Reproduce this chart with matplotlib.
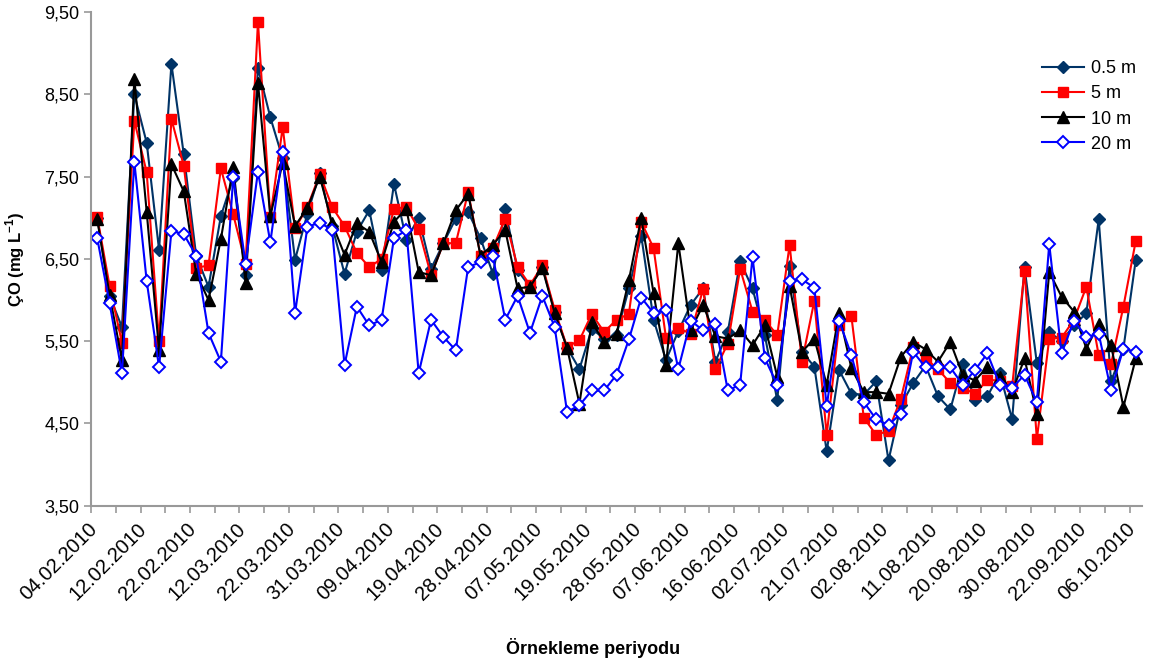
import numpy as np
import matplotlib
matplotlib.use('Agg')
import matplotlib.pyplot as plt
from matplotlib.transforms import ScaledTranslation

plt.rcParams['font.family'] = ['Liberation Sans', 'DejaVu Sans']
plt.rcParams['mathtext.fontset'] = 'custom'
plt.rcParams['mathtext.rm'] = 'Liberation Sans'
plt.rcParams['mathtext.bf'] = 'Liberation Sans:bold'

# Dissolved oxygen (mg/L) per sampling, one list per depth
do_05m = [7.00, 6.05, 5.67, 8.50, 7.91, 6.61, 8.87, 7.77, 6.54, 6.16,
          7.02, 7.48, 6.30, 8.82, 8.22, 7.72, 6.49, 7.05, 7.54, 6.90,
          6.32, 6.83, 7.09, 6.36, 7.41, 6.73, 7.00, 6.38, 6.69, 6.99,
          7.07, 6.75, 6.32, 7.10, 6.36, 6.16, 6.40, 5.86, 5.42, 5.16,
          5.65, 5.53, 5.58, 6.14, 6.78, 5.76, 5.27, 5.62, 5.94, 6.14,
          5.25, 5.61, 6.47, 6.14, 5.57, 4.78, 6.41, 5.37, 5.19, 4.16,
          5.15, 4.86, 4.85, 5.01, 4.05, 4.72, 4.99, 5.20, 4.83, 4.67,
          5.22, 4.79, 4.83, 5.11, 4.55, 6.40, 5.23, 5.61, 5.50, 5.69,
          5.84, 6.98, 5.01, 5.41, 6.49]
do_5m = [7.01, 6.17, 5.48, 8.18, 7.55, 5.50, 8.20, 7.63, 6.39, 6.42,
         7.60, 7.04, 6.44, 9.38, 7.01, 8.10, 6.87, 7.13, 7.53, 7.13,
         6.90, 6.57, 6.40, 6.50, 7.11, 7.13, 6.86, 6.30, 6.69, 6.69,
         7.31, 6.54, 6.63, 6.99, 6.40, 6.18, 6.42, 5.88, 5.43, 5.51,
         5.83, 5.61, 5.76, 5.83, 6.95, 6.63, 5.54, 5.66, 5.59, 6.13,
         5.16, 5.47, 6.38, 5.86, 5.76, 5.57, 6.67, 5.25, 5.99, 4.36,
         5.69, 5.80, 4.57, 4.36, 4.41, 4.80, 5.43, 5.29, 5.16, 4.99,
         4.93, 4.86, 5.03, 5.02, 4.95, 6.35, 4.31, 5.53, 5.54, 5.76,
         6.16, 5.33, 5.22, 5.92, 6.72]
do_10m = [6.98, 6.06, 5.27, 8.69, 7.07, 5.39, 7.65, 7.32, 6.32, 6.00,
          6.74, 7.62, 6.21, 8.64, 7.02, 7.67, 6.90, 7.12, 7.50, 6.93,
          6.55, 6.93, 6.83, 6.46, 6.95, 7.11, 6.34, 6.30, 6.69, 7.09,
          7.29, 6.54, 6.67, 6.85, 6.14, 6.16, 6.39, 5.84, 5.42, 4.74,
          5.73, 5.49, 5.59, 6.24, 7.00, 6.08, 5.21, 6.69, 5.63, 5.94,
          5.56, 5.53, 5.63, 5.45, 5.69, 5.07, 6.17, 5.37, 5.53, 4.97,
          5.84, 5.17, 4.88, 4.88, 4.86, 5.31, 5.49, 5.40, 5.25, 5.49,
          5.09, 5.02, 5.19, 5.07, 4.88, 5.29, 4.62, 6.34, 6.04, 5.86,
          5.41, 5.71, 5.45, 4.70, 5.29]
do_20m = [6.75, 5.96, 5.11, 7.68, 6.23, 5.18, 6.84, 6.80, 6.54, 5.60,
          5.25, 7.50, 6.44, 7.56, 6.70, 7.80, 5.84, 6.89, 6.94, 6.85,
          5.21, 5.92, 5.69, 5.76, 6.75, 6.85, 5.11, 5.76, 5.55, 5.39,
          6.40, 6.46, 6.53, 5.76, 6.05, 5.60, 6.05, 5.67, 4.64, 4.72,
          4.90, 4.90, 5.09, 5.52, 6.03, 5.84, 5.88, 5.16, 5.75, 5.63,
          5.71, 4.90, 4.97, 6.52, 5.29, 4.97, 6.23, 6.25, 6.15, 4.71,
          5.75, 5.33, 4.76, 4.55, 4.48, 4.62, 5.37, 5.18, 5.18, 5.18,
          4.97, 5.15, 5.35, 4.97, 4.93, 5.09, 4.76, 6.68, 5.35, 5.75,
          5.55, 5.59, 4.90, 5.41, 5.37]

date_labels = ['04.02.2010', '12.02.2010', '22.02.2010', '12.03.2010', '22.03.2010',
               '31.03.2010', '09.04.2010', '19.04.2010', '28.04.2010', '07.05.2010',
               '19.05.2010', '28.05.2010', '07.06.2010', '16.06.2010', '02.07.2010',
               '21.07.2010', '02.08.2010', '11.08.2010', '20.08.2010', '30.08.2010',
               '22.09.2010', '06.10.2010']
label_step = 4

x = np.arange(len(do_05m))

fig = plt.figure(figsize=(11.57, 6.68), dpi=100)
ax = fig.add_axes([0.0787, 0.243, 0.9083, 0.739])

ax.plot(x, do_05m, '-D', color='#003366', lw=1.5, ms=6, label='0.5 m')
ax.plot(x, do_5m, '-s', color='#ff0000', lw=1.5, ms=7.2, label='5 m')
ax.plot(x, do_10m, '-^', color='#000000', lw=1.5, ms=8.8, label='10 m')
ax.plot(x, do_20m, '-D', color='#0000ff', mfc='white', mec='#0000ff', mew=1.4,
        lw=1.5, ms=6, label='20 m')

ax.set_xlim(-0.5, len(x) - 0.5)
ax.set_ylim(3.5, 9.5)
ax.set_yticks(np.arange(3.5, 9.6, 1.0))
ax.set_yticklabels([f'{v:.2f}'.replace('.', ',') for v in np.arange(3.5, 9.6, 1.0)])

# tick marks between every two categories, labels on every fourth point
ax.set_xticks(np.arange(-0.5, len(x), 2))
ax.set_xticklabels([])
ax.set_xticks(x[::label_step], minor=True)
ax.set_xticklabels(date_labels, minor=True, rotation=45, ha='right', va='center',
                   rotation_mode='anchor', fontsize=14.5)
ax.tick_params(axis='x', which='minor', length=0, pad=15)
ax.tick_params(axis='both', which='major', direction='out', length=5,
               width=1.2, color='#999999', labelsize=13)
shift = ScaledTranslation(-3 / 100, 0, fig.dpi_scale_trans)
for lbl in ax.get_xticklabels(minor=True):
    lbl.set_transform(lbl.get_transform() + shift)

for side in ['top', 'right']:
    ax.spines[side].set_visible(False)
for side in ['left', 'bottom']:
    ax.spines[side].set_color('#999999')
    ax.spines[side].set_linewidth(1.5)

ax.set_ylabel(r'ÇO (mg L$^{\mathbf{-1}}$)', fontsize=12, fontweight='bold', labelpad=12)
fig.text(0.513, 0.03, 'Örnekleme periyodu', ha='center', va='center',
         fontsize=13, fontweight='bold')

ax.legend(loc='upper right', bbox_to_anchor=(1.01, 0.935), frameon=False,
          fontsize=13, handlelength=2.3, labelspacing=0.45, handletextpad=0.4)

fig.savefig('out.png', dpi=100)
